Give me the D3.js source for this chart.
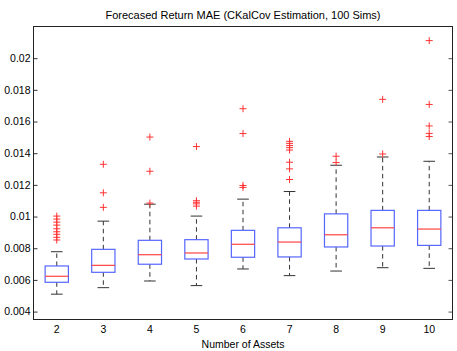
<!DOCTYPE html>
<html>
<head>
<meta charset="utf-8">
<script src="https://cdn.jsdelivr.net/npm/d3@7"></script>
<style>
  html, body { margin: 0; padding: 0; background: #fff; }
  svg { display: block; font-family: "Liberation Sans", Arial, Helvetica, sans-serif; }
</style>
</head>
<body>
<svg id="chart" width="457" height="351"></svg>
<script>
// ---- data ----
const categories = ["2", "3", "4", "5", "6", "7", "8", "9", "10"];
const q1Values     = [0.00585, 0.00648, 0.00699, 0.00732, 0.00743, 0.00745, 0.00808, 0.00814, 0.00818];
const medianValues = [0.00623, 0.00692, 0.00759, 0.00770, 0.00825, 0.00839, 0.00885, 0.00929, 0.00921];
const q3Values     = [0.00688, 0.00793, 0.00850, 0.00854, 0.00913, 0.00929, 0.01017, 0.01039, 0.01039];
const whiskerLow   = [0.00510, 0.00551, 0.00593, 0.00564, 0.00669, 0.00627, 0.00656, 0.00677, 0.00673];
const whiskerHigh  = [0.00778, 0.00971, 0.01078, 0.01003, 0.01110, 0.01158, 0.01324, 0.01376, 0.01349];
const outlierValues = [
  [0.01003, 0.00984, 0.00965, 0.00946, 0.00923, 0.00904, 0.00888, 0.00869, 0.00852],
  [0.01330, 0.01150, 0.01058],
  [0.01502, 0.01286, 0.01085],
  [0.01442, 0.01100, 0.01090, 0.01080, 0.01066],
  [0.01681, 0.01524, 0.01196, 0.01184],
  [0.01475, 0.01462, 0.01448, 0.01435, 0.01420, 0.01343, 0.01301, 0.01234],
  [0.01381, 0.01341],
  [0.01740, 0.01395],
  [0.02111, 0.01708, 0.01572, 0.01525, 0.01505]
];
const yTickValues = [0.004, 0.006, 0.008, 0.010, 0.012, 0.014, 0.016, 0.018, 0.020];
const yTickLabels = ["0.004", "0.006", "0.008", "0.01", "0.012", "0.014", "0.016", "0.018", "0.02"];
const titleText = "Forecased Return MAE (CKalCov Estimation, 100 Sims)";
const xLabelText = "Number of Assets";

// ---- layout ----
const svg = d3.select("#chart");
const L = 33.5, R = 452.5, T = 26.5, B = 319.5;

const x = d3.scaleBand().domain(categories).range([L, R]).paddingInner(0).paddingOuter(0);
const y = d3.scaleLinear().domain([0.0035, 0.022]).range([B, T]);
const bw = x.bandwidth();
const boxW = bw * 0.5;
const capW = bw * 0.25;

const rows = categories.map((c, i) => ({
  c, q1: q1Values[i], med: medianValues[i], q3: q3Values[i],
  lo: whiskerLow[i], hi: whiskerHigh[i], out: outlierValues[i]
}));

const g = svg.append("g");

const grp = g.selectAll("g.box").data(rows).join("g").attr("class", "box")
  .attr("transform", d => `translate(${x(d.c) + bw / 2},0)`);

// whiskers (dashed)
grp.append("line").attr("x1", 0).attr("x2", 0)
  .attr("y1", d => y(d.q3)).attr("y2", d => y(d.hi))
  .attr("stroke", "#333").attr("stroke-width", 1).attr("stroke-dasharray", "4.5,3.5");
grp.append("line").attr("x1", 0).attr("x2", 0)
  .attr("y1", d => y(d.q1)).attr("y2", d => y(d.lo))
  .attr("stroke", "#333").attr("stroke-width", 1).attr("stroke-dasharray", "4.5,3.5");
// caps
grp.append("line").attr("x1", -capW / 2).attr("x2", capW / 2)
  .attr("y1", d => y(d.hi)).attr("y2", d => y(d.hi))
  .attr("stroke", "#333").attr("stroke-width", 1);
grp.append("line").attr("x1", -capW / 2).attr("x2", capW / 2)
  .attr("y1", d => y(d.lo)).attr("y2", d => y(d.lo))
  .attr("stroke", "#333").attr("stroke-width", 1);
// box
grp.append("rect").attr("x", -boxW / 2).attr("width", boxW)
  .attr("y", d => y(d.q3)).attr("height", d => y(d.q1) - y(d.q3))
  .attr("fill", "none").attr("stroke", "#5566ff").attr("stroke-width", 1.2);
// median
grp.append("line").attr("x1", -boxW / 2).attr("x2", boxW / 2)
  .attr("y1", d => y(d.med)).attr("y2", d => y(d.med))
  .attr("stroke", "#ff4444").attr("stroke-width", 1.2);
// outliers (+)
grp.selectAll("path.out").data(d => d.out).join("path").attr("class", "out")
  .attr("d", v => { const yy = y(v); return `M-3.5,${yy}H3.5M0,${yy - 3.5}V${yy + 3.5}`; })
  .attr("stroke", "#ff3333").attr("stroke-width", 1).attr("fill", "none");

// ---- axes ----
const fontSize = "10.5px";
const yAxis = d3.axisLeft(y).tickValues(yTickValues)
  .tickFormat((d, i) => yTickLabels[i]).tickSizeInner(-4).tickSizeOuter(0).tickPadding(3);
const ya = g.append("g").attr("transform", `translate(${L},0)`).call(yAxis);
ya.select(".domain").remove();
ya.selectAll("text").attr("font-size", fontSize).attr("fill", "#000").attr("font-family", "Liberation Sans, Arial, sans-serif");
ya.selectAll("line").attr("stroke", "#333");

const yAxisR = d3.axisRight(y).tickValues(yTickValues).tickFormat("").tickSizeInner(-4).tickSizeOuter(0);
const yr = g.append("g").attr("transform", `translate(${R},0)`).call(yAxisR);
yr.select(".domain").remove();
yr.selectAll("line").attr("stroke", "#555");

const xAxis = d3.axisBottom(x).tickSize(0).tickPadding(6);
const xa = g.append("g").attr("transform", `translate(0,${B})`).call(xAxis);
xa.select(".domain").remove();
xa.selectAll("text").attr("font-size", fontSize).attr("fill", "#000").attr("font-family", "Liberation Sans, Arial, sans-serif");

// frame
g.append("rect").attr("x", L).attr("y", T).attr("width", R - L).attr("height", B - T)
  .attr("fill", "none").attr("stroke", "#222").attr("stroke-width", 1);

// title and label
svg.append("text").attr("x", (L + R) / 2).attr("y", 18.5).attr("text-anchor", "middle")
  .attr("font-size", "11px").attr("fill", "#000").text(titleText);
svg.append("text").attr("x", (L + R) / 2).attr("y", 348.3).attr("text-anchor", "middle")
  .attr("font-size", fontSize).attr("fill", "#000").text(xLabelText);
</script>
</body>
</html>
